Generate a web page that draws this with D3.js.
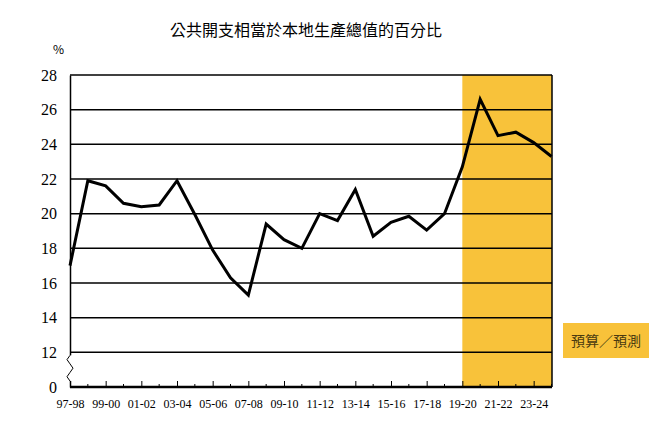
<!DOCTYPE html>
<html lang="zh-Hant">
<head>
<meta charset="utf-8">
<title>公共開支相當於本地生產總值的百分比</title>
<script src="https://d3js.org/d3.v7.min.js"></script>
<style>
  body { margin: 0; background: #fff; }
  .title { font-family: "Noto Sans CJK TC", sans-serif; font-size: 16px; }
  .tick text { font-family: "Liberation Serif", serif; fill: #000; }
  .yaxis .tick text { font-size: 16px; }
  .xaxis .tick text { font-size: 12px; }
  .line { fill: none; stroke: #000; stroke-width: 3px; stroke-linejoin: miter; }
</style>
</head>
<body>
<svg width="670" height="442"></svg>
<script>
// fiscal years 97-98 .. 24-25
var years = ["97-98","98-99","99-00","00-01","01-02","02-03","03-04","04-05","05-06","06-07",
  "07-08","08-09","09-10","10-11","11-12","12-13","13-14","14-15","15-16","16-17",
  "17-18","18-19","19-20","20-21","21-22","22-23","23-24","24-25"];
// public expenditure as % of GDP
var pct = [17.0, 21.9, 21.6, 20.6, 20.4, 20.5, 21.9, 19.95, 17.9, 16.3,
  15.3, 19.4, 18.5, 18.0, 20.0, 19.6, 21.4, 18.7, 19.5, 19.85,
  19.05, 20.0, 22.7, 26.6, 24.5, 24.7, 24.1, 23.3];
var yTicks = [10, 12, 14, 16, 18, 20, 22, 24, 26, 28]; // 10 is drawn as broken "0"
var xLabels = ["97-98","99-00","01-02","03-04","05-06","07-08","09-10","11-12","13-14",
  "15-16","17-18","19-20","21-22","23-24"];
var forecastFrom = "19-20";

var svg = d3.select("svg");
var margin = {top: 75, right: 118, bottom: 55, left: 70};
var width = 670 - margin.left - margin.right;
var height = 442 - margin.top - margin.bottom;
var g = svg.append("g").attr("transform", `translate(${margin.left}, ${margin.top})`);

var xScale = d3.scalePoint().domain(years).range([0, width - 0.5]);
var yScale = d3.scaleLinear().domain([10, 28]).range([height, 0]);

// forecast shading
g.append("rect")
  .attr("x", xScale(forecastFrom))
  .attr("y", 0)
  .attr("width", width - xScale(forecastFrom))
  .attr("height", height)
  .attr("fill", "#F8C23A");

// gridlines
g.selectAll(".grid")
  .data(yTicks.filter(d => d > 10))
  .enter().append("line")
  .attr("x1", 0).attr("x2", width)
  .attr("y1", d => yScale(d)).attr("y2", d => yScale(d))
  .attr("stroke", "#000").attr("stroke-width", 1.5);

// right border
g.append("line")
  .attr("x1", width).attr("x2", width)
  .attr("y1", 0).attr("y2", height)
  .attr("stroke", "#000").attr("stroke-width", 1.5);

// y axis
var yAxis = g.append("g").attr("class", "yaxis")
  .call(d3.axisLeft(yScale).tickValues(yTicks).tickSize(0).tickPadding(13)
    .tickFormat(d => d === 10 ? "0" : d));
yAxis.select(".domain").attr("stroke-width", 1.5);

// axis break zigzag
var zy0 = yScale(12) + 3, zy1 = yScale(10) - 6;
var zz = [];
var steps = 6;
for (var i = 0; i <= steps; i++) {
  zz.push([i % 2 === 0 ? 0 : (i % 4 === 1 ? -3 : 3), zy0 + (zy1 - zy0) * i / steps]);
}
g.append("rect").attr("x", -2).attr("y", zy0).attr("width", 4).attr("height", zy1 - zy0).attr("fill", "#fff");
g.append("path")
  .attr("d", d3.line()(zz))
  .attr("fill", "none").attr("stroke", "#000").attr("stroke-width", 1);

// x axis: minor ticks every year, labels every other year
var xAxis = g.append("g").attr("class", "xaxis")
  .attr("transform", `translate(0, ${height})`)
  .call(d3.axisBottom(xScale).tickValues(xLabels).tickSize(-6).tickPadding(12));
xAxis.select(".domain").attr("d", `M0,0H${width}`).attr("stroke-width", 2.5);
xAxis.selectAll(".tick line").attr("stroke-width", 1);
g.append("g").attr("transform", `translate(0, ${height})`)
  .selectAll("line")
  .data(years.filter(d => xLabels.indexOf(d) < 0))
  .enter().append("line")
  .attr("x1", d => xScale(d)).attr("x2", d => xScale(d))
  .attr("y1", 0).attr("y2", -3)
  .attr("stroke", "#000");

// data line
var line = d3.line()
  .x((d, i) => xScale(years[i]))
  .y(d => yScale(d));
g.append("path")
  .datum(pct)
  .attr("class", "line")
  .attr("d", line);

// title and unit
svg.append("text").attr("class", "title")
  .attr("x", 306).attr("y", 36).attr("text-anchor", "middle")
  .text("公共開支相當於本地生產總值的百分比");
svg.append("text")
  .attr("x", 53).attr("y", 54)
  .attr("font-family", "Noto Sans CJK TC, sans-serif").attr("font-size", 12)
  .text("%");

// forecast legend box
svg.append("rect")
  .attr("x", 563).attr("y", 323).attr("width", 86).attr("height", 35)
  .attr("fill", "#F8C23A");
svg.append("text")
  .attr("x", 606).attr("y", 346).attr("text-anchor", "middle")
  .attr("font-family", "Noto Sans CJK TC, sans-serif").attr("font-size", 14)
  .attr("fill", "#4a3a10")
  .text("預算／預測");
</script>
</body>
</html>
